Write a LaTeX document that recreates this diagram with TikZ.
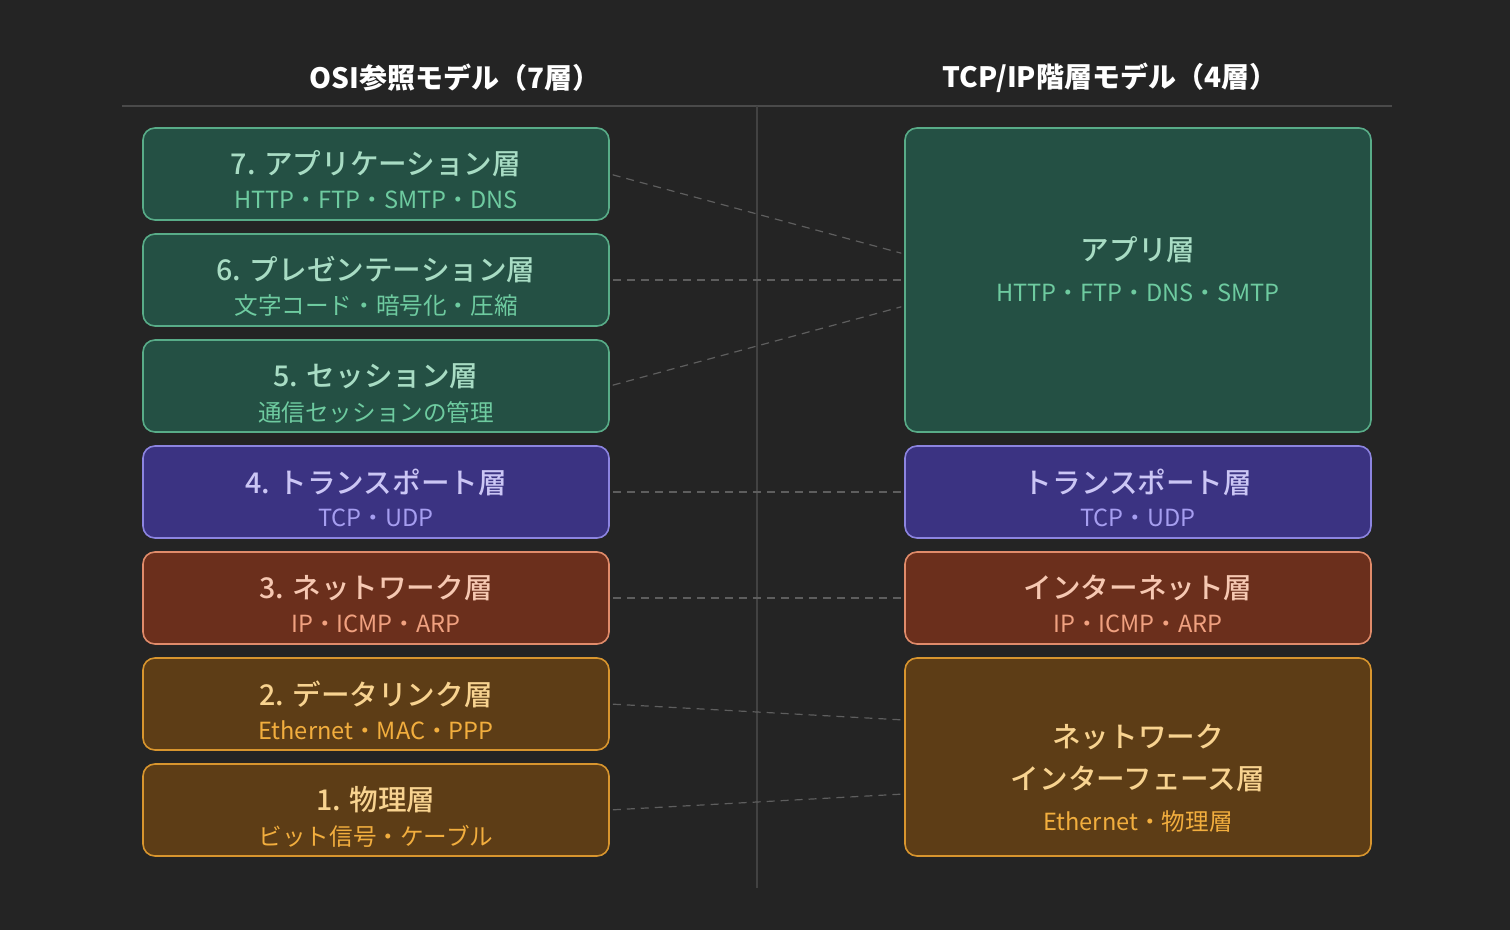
\documentclass[tikz,border=0pt]{standalone}
\usepackage{fontspec}
\setmainfont{Noto Sans CJK JP}
\newfontfamily\medfont{Noto Sans CJK JP Medium}
\usetikzlibrary{positioning, calc}
\usepackage{xcolor}
\definecolor{osibg}{HTML}{242424}
\definecolor{osirule}{HTML}{4A4A4A}
\definecolor{osidash}{HTML}{5E5E5E}
\definecolor{appfill}{HTML}{245044}
\definecolor{appline}{HTML}{58AC88}
\definecolor{apptitle}{HTML}{A8DCC4}
\definecolor{appsub}{HTML}{6ECBA0}
\definecolor{trfill}{HTML}{3B3382}
\definecolor{trline}{HTML}{8C84E0}
\definecolor{trtitle}{HTML}{CBC6F5}
\definecolor{trsub}{HTML}{A69EF0}
\definecolor{netfill}{HTML}{6B2F1C}
\definecolor{netline}{HTML}{E08B6A}
\definecolor{nettitle}{HTML}{F6C8B2}
\definecolor{netsub}{HTML}{F0A180}
\definecolor{linkfill}{HTML}{5D3D16}
\definecolor{linkline}{HTML}{D8952E}
\definecolor{linktitle}{HTML}{F8D390}
\definecolor{linksub}{HTML}{F2AE3E}

\tikzset{
  layerbox/.style={rounded corners=6pt, line width=0.8pt, minimum width=233pt, inner sep=0pt},
  appbox/.style={layerbox, draw=appline, fill=appfill},
  trbox/.style={layerbox, draw=trline, fill=trfill},
  netbox/.style={layerbox, draw=netline, fill=netfill},
  linkbox/.style={layerbox, draw=linkline, fill=linkfill},
  headtxt/.style={font=\bfseries\fontsize{14}{16}\selectfont, text=white},
  titletxt/.style={font=\medfont\fontsize{14.3}{17}\selectfont},
  subtxt/.style={font=\fontsize{11.8}{14}\selectfont},
  maplink/.style={osidash, line width=0.6pt, dash pattern=on 4pt off 3pt, shorten <=1.5pt, shorten >=1.5pt}
}

\begin{document}
\begin{tikzpicture}[x=0.5pt, y=-0.5pt]
  \fill[osibg] (0,0) rectangle (1510,930);
  \useasboundingbox (0,0) rectangle (1510,930);

  % Headings and rules
  \node[headtxt] (osihead) at (455,78) {OSI参照モデル（7層）};
  \node[headtxt] (tcphead) at (1110,78) {TCP/IP階層モデル（4層）};
  \draw[osirule, line width=0.6pt] (122,106) -- (1392,106);
  \draw[osirule!80!osibg, line width=0.6pt] (757,106) -- (757,888);

  % OSI side
  \node[appbox, minimum height=46pt] (osi7) at (376,174) {};
  \node[titletxt, apptitle] at ($(osi7)+(0,-10)$) {7. アプリケーション層};
  \node[subtxt, appsub] at ($(osi7)+(0,26)$) {HTTP・FTP・SMTP・DNS};

  \node[appbox, minimum height=46pt] (osi6) at (376,280) {};
  \node[titletxt, apptitle] at ($(osi6)+(0,-10)$) {6. プレゼンテーション層};
  \node[subtxt, appsub] at ($(osi6)+(0,26)$) {文字コード・暗号化・圧縮};

  \node[appbox, minimum height=46pt] (osi5) at (376,386) {};
  \node[titletxt, apptitle] at ($(osi5)+(0,-10)$) {5. セッション層};
  \node[subtxt, appsub] at ($(osi5)+(0,26)$) {通信セッションの管理};

  \node[trbox, minimum height=46pt] (osi4) at (376,492) {};
  \node[titletxt, trtitle] at ($(osi4)+(0,-10)$) {4. トランスポート層};
  \node[subtxt, trsub] at ($(osi4)+(0,26)$) {TCP・UDP};

  \node[netbox, minimum height=46pt] (osi3) at (376,598) {};
  \node[titletxt, nettitle] at ($(osi3)+(0,-10)$) {3. ネットワーク層};
  \node[subtxt, netsub] at ($(osi3)+(0,26)$) {IP・ICMP・ARP};

  \node[linkbox, minimum height=46pt] (osi2) at (376,704) {};
  \node[titletxt, linktitle] at ($(osi2)+(0,-10)$) {2. データリンク層};
  \node[subtxt, linksub] at ($(osi2)+(0,26)$) {Ethernet・MAC・PPP};

  \node[linkbox, minimum height=46pt] (osi1) at (376,810) {};
  \node[titletxt, linktitle] at ($(osi1)+(0,-10)$) {1. 物理層};
  \node[subtxt, linksub] at ($(osi1)+(0,26)$) {ビット信号・ケーブル};

  % TCP/IP side
  \node[appbox, minimum height=152pt] (tcpapp) at (1138,280) {};
  \node[titletxt, apptitle] at ($(tcpapp)+(0,-30)$) {アプリ層};
  \node[subtxt, appsub] at ($(tcpapp)+(0,13)$) {HTTP・FTP・DNS・SMTP};

  \node[trbox, minimum height=46pt] (tcptr) at (1138,492) {};
  \node[titletxt, trtitle] at ($(tcptr)+(0,-10)$) {トランスポート層};
  \node[subtxt, trsub] at ($(tcptr)+(0,26)$) {TCP・UDP};

  \node[netbox, minimum height=46pt] (tcpnet) at (1138,598) {};
  \node[titletxt, nettitle] at ($(tcpnet)+(0,-10)$) {インターネット層};
  \node[subtxt, netsub] at ($(tcpnet)+(0,26)$) {IP・ICMP・ARP};

  \node[linkbox, minimum height=99pt] (tcplink) at (1138,757) {};
  \node[titletxt, linktitle] at ($(tcplink)+(0,-20)$) {ネットワーク};
  \node[titletxt, linktitle] at ($(tcplink)+(0,22)$) {インターフェース層};
  \node[subtxt, linksub] at ($(tcplink)+(0,65)$) {Ethernet・物理層};

  % mapping lines
  \coordinate (app7) at ($(tcpapp.west)+(0,-26)$);
  \coordinate (app5) at ($(tcpapp.west)+(0,26)$);
  \coordinate (link2) at ($(tcplink.west)+(0,-37)$);
  \coordinate (link1) at ($(tcplink.west)+(0,37)$);
  \draw[maplink] (osi7.east) -- (app7);
  \draw[maplink] (osi6.east) -- (tcpapp.west);
  \draw[maplink] (osi5.east) -- (app5);
  \draw[maplink] (osi4.east) -- (tcptr.west);
  \draw[maplink] (osi3.east) -- (tcpnet.west);
  \draw[maplink] (osi2.east) -- (link2);
  \draw[maplink] (osi1.east) -- (link1);
\end{tikzpicture}
\end{document}
